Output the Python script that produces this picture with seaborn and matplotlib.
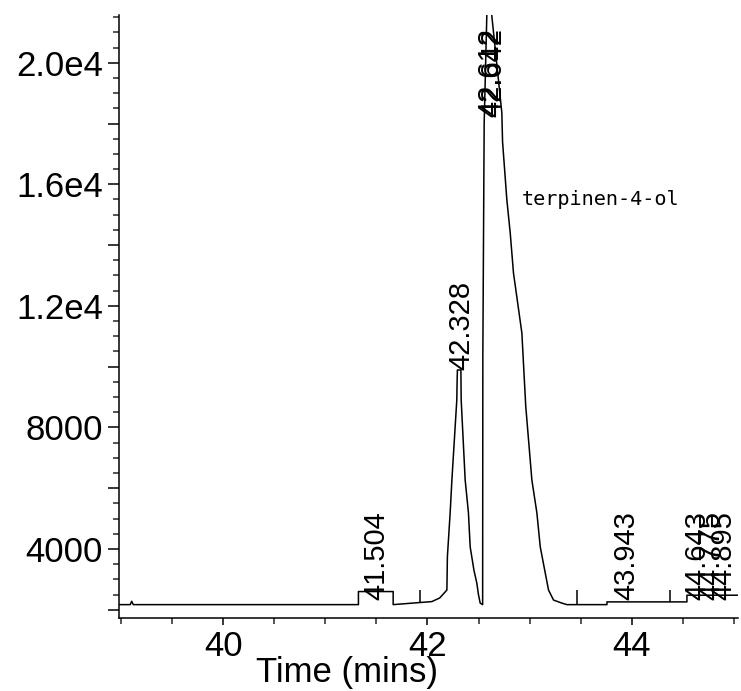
import numpy as np
import pandas as pd
import matplotlib
matplotlib.use("Agg")
import matplotlib.pyplot as plt
from matplotlib import font_manager as fm
from matplotlib.ticker import MultipleLocator, FixedLocator, FixedFormatter
import seaborn as sns

# ---------------- data ----------------
time = [38.98, 39.09, 39.104, 39.12, 41.324, 41.324, 41.664, 41.664,
        42.043, 42.12, 42.19, 42.195, 42.222, 42.239, 42.287, 42.29, 42.293,
        42.327, 42.33, 42.369, 42.401, 42.418, 42.455, 42.483, 42.499, 42.516,
        42.540, 42.542, 42.555, 42.59, 42.625, 42.728, 42.735, 42.777, 42.81,
        42.842, 42.924, 42.962, 43.022, 43.071, 43.104, 43.153, 43.185, 43.234,
        43.316, 43.365, 43.757, 43.757, 44.54, 44.54, 45.04]
signal = [2170, 2170, 2280, 2170, 2170, 2600, 2600, 2170,
          2270, 2390, 2650, 3750, 5190, 6270, 8900, 9500, 9890,
          9890, 8900, 6270, 5190, 4070, 3300, 2880, 2500, 2220,
          2170, 10400, 18000, 22800, 21700, 18350, 17400, 15490, 14400,
          13080, 11110, 8700, 6270, 5190, 4070, 3210, 2650, 2320,
          2220, 2170, 2170, 2260, 2260, 2480, 2480]

marker_times = [41.928, 43.463, 44.37]
marker_top = 2650

peak_labels = ["41.504", "42.328", "42.612", "42.642", "43.943", "44.643", "44.775", "44.895"]
peak_heights = [2320, 9890, 22800, 22800, 2320, 2320, 2320, 2320]

compound_name = "terpinen-4-ol"
compound_time = 42.642
compound_level = 15490

x_ticks = [40, 42, 44]
y_ticks = [2000, 4000, 6000, 8000, 10000, 12000, 14000, 16000, 18000, 20000]
y_tick_labels = ["", "4000", "", "8000", "", "1.2e4", "", "1.6e4", "", "2.0e4"]

# ---------------- style ----------------
sns.set_style("ticks")
names = {f.name for f in fm.fontManager.ttflist}
main_font = "Liberation Sans" if "Liberation Sans" in names else "DejaVu Sans"
plt.rcParams["font.family"] = [main_font, "DejaVu Sans"]

fig = plt.figure(figsize=(7.41, 6.91), dpi=100)
ax = fig.add_axes([119 / 741, 73 / 691, 619 / 741, 603 / 691])

df = pd.DataFrame({"time": time, "signal": signal})
sns.lineplot(data=df, x="time", y="signal", sort=False, estimator=None,
             color="black", linewidth=1.1, ax=ax)

base = np.interp(marker_times, time, signal)
ax.vlines(marker_times, base, marker_top, color="black", linewidth=1.1)

ax.set_xlim(38.98, 45.04)
ax.set_ylim(1730, 21570)

# peak labels (rotated, centred on the retention time)
cap = 18200
for lab, h in zip(peak_labels, peak_heights):
    t = float(lab)
    y = min(h, cap)
    ax.text(t, y, lab, rotation=90, ha="center", va="bottom",
            family=[main_font, "DejaVu Sans"], fontsize=21,
            color="black", clip_on=False)

ax.annotate(compound_name, xy=(compound_time, compound_level), xytext=(21, 0),
            textcoords="offset points", ha="left", va="center",
            family="DejaVu Sans Mono", fontsize=14.5, color="black")

# axes styling
sns.despine(ax=ax, top=True, right=True)
for s in ["left", "bottom"]:
    ax.spines[s].set_linewidth(1.1)
    ax.spines[s].set_color("black")

ax.xaxis.set_major_locator(FixedLocator(x_ticks))
ax.xaxis.set_minor_locator(MultipleLocator(0.5))
ax.yaxis.set_major_locator(FixedLocator(y_ticks))
ax.yaxis.set_major_formatter(FixedFormatter(y_tick_labels))
ax.yaxis.set_minor_locator(MultipleLocator(500))

ax.tick_params(axis="x", which="major", direction="out", length=5, width=1.1,
               labelsize=25, pad=4, colors="black")
ax.tick_params(axis="x", which="minor", direction="out", length=4, width=1.1)
ax.tick_params(axis="y", which="major", direction="out", length=8, width=1.1,
               labelsize=25, pad=3.5, colors="black")
ax.tick_params(axis="y", which="minor", direction="out", length=4, width=1.1)

ax.set_ylabel("")
ax.set_xlabel("Time (mins)", fontsize=25, color="black")
ax.xaxis.set_label_coords(0.368, -0.063)

fig.savefig("out.png", dpi=100)
